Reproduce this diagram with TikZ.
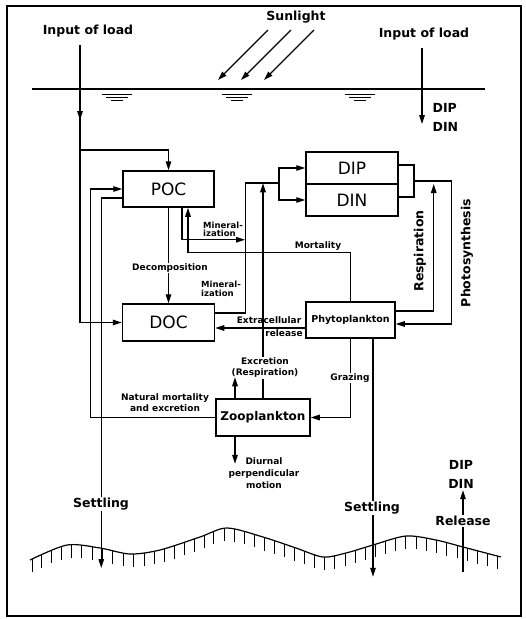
\documentclass[tikz,border=0pt]{standalone}
\usepackage{fontspec}
\setmainfont{DejaVu Sans}
\usetikzlibrary{arrows.meta,decorations.markings}

\begin{document}
\begin{tikzpicture}[x=1pt,y=-1pt,>={Triangle[length=9pt,width=5.5pt]},line width=1.3pt,
  every node/.style={font=\bfseries\fontsize{9}{11}\selectfont,inner sep=1pt},
  big/.style={font=\bfseries\fontsize{12.5}{15}\selectfont},
  pool/.style={draw,line width=1.5pt,inner sep=0pt,font=\fontsize{17}{19}\selectfont},
  tiny/.style={font=\bfseries\fontsize{8.5}{9}\selectfont,align=left}]
\useasboundingbox (0,0) rectangle (526,619);
\draw[line width=1.5pt] (7,6) rectangle (521,616);

% surface and inputs
\node[big] (sun) at (296,17) {Sunlight};
\node[big] (inL) at (88,31) {Input of load};
\node[big] (inR) at (424,34) {Input of load};
\draw (32,89) -- (485,89);
\foreach \wx in {117,237,360} {
  \draw[line width=0.9pt] (\wx-15,94) -- (\wx+15,94);
  \draw[line width=0.9pt] (\wx-11,97) -- (\wx+11,97);
  \draw[line width=0.9pt] (\wx-6,100) -- (\wx+6,100);
}
\foreach \sx in {268,291,314}
  \draw[->] (\sx,30) -- ++(-50,50);
\coordinate (sL) at (80,45);
\coordinate (sR) at (422,48);
\draw[->] (sR) -- ++(0,76);
\node[big,anchor=west] (dipR) at (431,108) {DIP};
\node[big,anchor=west] (dinR) at (431,127) {DIN};

% pools
\node[pool,minimum width=91pt,minimum height=36pt] (poc) at (168.5,189) {POC};
\node[pool,minimum width=92pt,minimum height=37pt] (doc) at (168.5,322.5) {DOC};
\node[pool,minimum width=92pt,minimum height=32pt] (dip) at (352,168) {DIP};
\node[pool,minimum width=92pt,minimum height=32pt] (din) at (352,200) {DIN};
\node[pool,minimum width=16pt,minimum height=32pt] (link) at (406,181) {};
\node[pool,minimum width=89pt,minimum height=36pt,font=\bfseries\fontsize{9.5}{11}\selectfont] (phyto) at (350.5,320) {Phytoplankton};
\node[pool,minimum width=94pt,minimum height=37pt,font=\bfseries\fontsize{12}{14}\selectfont] (zoo) at (263,417.5) {Zooplankton};

% load to POC and DOC
\draw[->] (sL) -- ++(0,75);
\draw[->] (sL) |- (doc.west);
\coordinate (brL) at (80,150);
\draw[->] (brL) -| (poc.north);

% POC
\draw[->] (poc) -- (doc);
\node[fill=white] (dec) at (170,268) {Decomposition};
\draw[->] ([xshift=13.5pt]poc.south) -- ++(0,32) -- ++(63,0);
\node[tiny,font=\bfseries\fontsize{8.5}{8}\selectfont] (minP) at (223,229) {Mineral-\\ization};
\draw[->] (phyto.north) -- ++(0,-49) -| ([xshift=19.5pt]poc.south);
\node (mort) at (318,246) {Mortality};

% DOC to nutrients
\coordinate (fk) at (279,183);
\draw ([yshift=9.5pt]doc.east) -- ++(30,0) |- (fk);
\draw[->] (fk) |- (dip.west);
\draw[->] (fk) |- (din.west);
\node[tiny] (minD) at (221,289) {Mineral-\\ization};

% zooplankton
\draw[->] (zoo.west) -- ++(-125,0) |- (poc.west);
\node[align=center] (nat) at (165,403) {Natural mortality\\and excretion};
\draw[->] (zoo.north) -- ++(0,-215);
\node[fill=white,align=center] (exc) at (265,368) {Excretion\\(Respiration)};
\draw[->] ([xshift=-28pt]zoo.north) -- ++(0,-21);
\draw[->] ([xshift=-28pt]zoo.south) -- ++(0,27);
\node[align=center,font=\bfseries\fontsize{9}{12}\selectfont] (diu) at (264,473) {Diurnal\\perpendicular\\motion};

% phytoplankton
\draw[->] ([yshift=-8pt]phyto.west) -- ([yshift=-5.5pt]doc.east);
\node (ext1) at (269,320) {Extracellular};
\node (ext2) at (284,333) {release};
\draw[->] ([yshift=9pt]phyto.east) -- ++(38,0) -- ++(0,-127);
\node[big,rotate=90] (resp) at (420,251) {Respiration};
\draw[->] (link.east) -- ++(37,0) |- ([yshift=-4pt]phyto.east);
\node[big,rotate=90] (photo) at (467,253) {Photosynthesis};
\draw[->] (phyto.south) |- (zoo.east);
\node[fill=white] (graz) at (350,378) {Grazing};

% sediment
\draw[line width=1.2pt,postaction={decorate},decoration={markings,
  mark=between positions 0.005 and 0.995 step 10.5pt with {\pgftransformresetnontranslations
  \draw[line width=1pt] (0pt,0pt) -- (0pt,-13pt);}}]
  plot[smooth] coordinates {(30,560) (67,545) (100,548) (130,554) (160,550) (200,537) (227,528)
  (263,537) (296,548) (323,557) (346,553) (373,545) (406,536) (436,540) (463,547) (501,557)};
\draw[->] ([yshift=-9pt]poc.west) -- ++(-21,0) -- ++(0,370);
\node[big,fill=white] (setL) at (101,504) {Settling};
\draw[->] ([xshift=22.5pt]phyto.south) -- ++(0,238);
\node[big,fill=white] (setR) at (372,508) {Settling};
\node[big] (sedP) at (461,465) {DIP};
\node[big] (sedN) at (461,484) {DIN};
\coordinate (relB) at (463,572);
\draw[->] (relB) -- (relB |- sedN.south);
\node[big,fill=white] (rls) at (463,521) {Release};
\end{tikzpicture}
\end{document}
